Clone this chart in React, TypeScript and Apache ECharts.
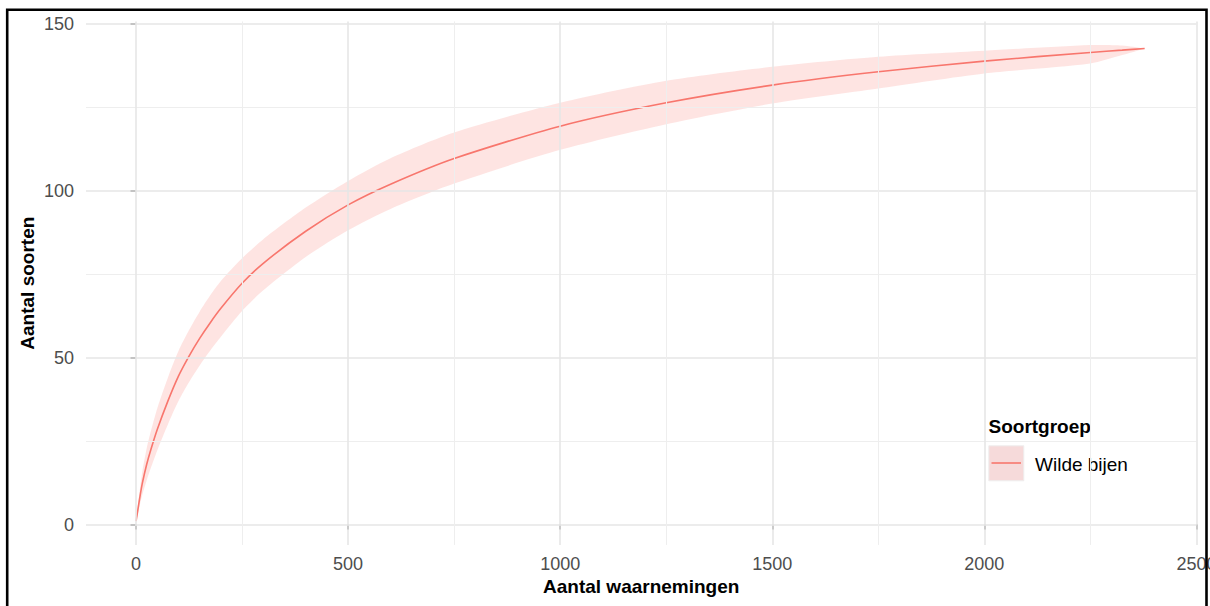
import React, { useEffect, useRef } from "react";
import * as echarts from "echarts";

const observations = [0, 5, 10, 15, 25, 35, 50, 75, 100, 125, 150, 175, 200, 250, 300, 400, 500, 600, 750, 1000, 1250, 1500, 1750, 2000, 2250, 2325, 2378];
const species = [1, 5, 9, 12.5, 18, 22.5, 28.5, 37, 44.5, 50.5, 55.8, 60.5, 64.8, 72.3, 78.3, 87.9, 95.8, 102, 109.7, 119.4, 126.4, 131.7, 135.7, 138.9, 141.5, 142.2, 142.7];
const speciesUpper = [1, 6.5, 11.5, 16, 22.8, 28, 34.8, 44, 52, 58.3, 63.8, 68.7, 73, 79.8, 85.5, 95, 103, 109.8, 117.5, 126.4, 133, 137.2, 140.2, 142, 143.7, 143.6, 142.7];
const speciesLower = [1, 3.5, 6.5, 9, 13.2, 17, 22.2, 30, 37, 42.7, 47.7, 52.2, 56.3, 64, 70.2, 80.2, 88.2, 94.6, 102.2, 112.3, 120, 126.2, 130.7, 135.2, 138.2, 140.7, 142.7];

const xTicks = [0, 500, 1000, 1500, 2000, 2500];
const xMinor = [250, 750, 1250, 1750, 2250];
const yTicks = [0, 50, 100, 150];
const yMinor = [25, 75, 125];

const seriesName = "Wilde bijen";
const legendTitle = "Soortgroep";
const xTitle = "Aantal waarnemingen";
const yTitle = "Aantal soorten";

const FONT = "'Liberation Sans', Arial, Helvetica, sans-serif";
const RED = "#F8766D";

export default function App() {
  const ref = useRef<HTMLDivElement>(null);
  useEffect(() => {
    if (!ref.current) return;
    const chart = echarts.init(ref.current, null, { renderer: "svg" });
    const major = { color: "#E6E6E6", width: 1.6, type: "solid" as const };
    const minor = { color: "#EEEEEE", width: 1, type: "solid" as const };
    const gridLines = [
      ...yTicks.map((v) => ({ yAxis: v, lineStyle: major })),
      ...yMinor.map((v) => ({ yAxis: v, lineStyle: minor })),
      ...xTicks.map((v) => ({ xAxis: v, lineStyle: major })),
      ...xMinor.map((v) => ({ xAxis: v, lineStyle: minor })),
    ];
    const gridLeft = 86;
    const gridTop = 21.4;
    const gridW = 1110.4;
    const gridH = 523.5;
    const plain = (v: number) => String(v);
    chart.setOption({
      animation: false,
      textStyle: { fontFamily: FONT },
      grid: { left: gridLeft, top: gridTop, width: gridW, height: gridH, containLabel: false, outerBoundsMode: "none" },
      xAxis: {
        type: "value",
        min: -118,
        max: 2500,
        axisLine: { show: false },
        splitLine: { show: false },
        axisTick: { show: true, customValues: xTicks, length: 5, lineStyle: { color: "#333333", width: 1.6 } },
        axisLabel: { customValues: xTicks, formatter: plain, color: "#4D4D4D", fontSize: 18, fontFamily: FONT, margin: 10 },
      },
      yAxis: {
        type: "value",
        min: -6.1,
        max: 150.8,
        axisLine: { show: false },
        splitLine: { show: false },
        axisTick: { show: true, customValues: yTicks, length: 5.5, lineStyle: { color: "#333333", width: 1.6 } },
        axisLabel: { customValues: yTicks, formatter: plain, color: "#4D4D4D", fontSize: 18, fontFamily: FONT, margin: 12 },
      },
      series: [
        {
          name: "grid",
          type: "line",
          z: 1,
          symbol: "none",
          lineStyle: { opacity: 0 },
          silent: true,
          data: observations.map((x, i) => [x, species[i]]),
          markLine: {
            silent: true,
            symbol: ["none", "none"],
            label: { show: false },
            emphasis: { disabled: true },
            animation: false,
            data: gridLines,
          },
        },
        {
          name: "band",
          type: "custom",
          z: 2,
          silent: true,
          data: observations.map((x, i) => [x, speciesLower[i], speciesUpper[i]]),
          encode: { x: 0, y: [1, 2] },
          renderItem: (params: any, api: any) => {
            if (params.dataIndex !== 0) return null;
            const pts: number[][] = [];
            for (let i = 0; i < observations.length; i++) pts.push(api.coord([observations[i], speciesUpper[i]]));
            for (let i = observations.length - 1; i >= 0; i--) pts.push(api.coord([observations[i], speciesLower[i]]));
            return { type: "polygon", shape: { points: pts, smooth: 0.25 }, style: { fill: "rgba(248,118,109,0.2)" } };
          },
        },
        {
          name: seriesName,
          type: "line",
          z: 3,
          symbol: "none",
          smooth: 0.25,
          lineStyle: { color: RED, width: 1.6 },
          silent: true,
          data: observations.map((x, i) => [x, species[i]]),
        },
      ],
      graphic: [
        {
          type: "text",
          x: gridLeft + gridW / 2,
          y: 586.5,
          style: { text: xTitle, font: `bold 19px ${FONT}`, fill: "#000", align: "center", verticalAlign: "middle" },
        },
        {
          type: "text",
          x: 27.8,
          y: gridTop + gridH / 2,
          rotation: Math.PI / 2,
          style: { text: yTitle, font: `bold 19px ${FONT}`, fill: "#000", align: "center", verticalAlign: "middle" },
        },
        {
          type: "group",
          z: 50,
          children: [
            { type: "rect", shape: { x: 977, y: 405, width: 164, height: 88 }, style: { fill: "#FFFFFF" } },
            {
              type: "text",
              x: 988.5,
              y: 426.3,
              style: { text: legendTitle, font: `bold 19px ${FONT}`, fill: "#000", align: "left", verticalAlign: "middle" },
            },
            {
              type: "rect",
              shape: { x: 988.8, y: 445.8, width: 35, height: 35 },
              style: { fill: "#F6DADA", stroke: "#EEEEEE", lineWidth: 1 },
            },
            {
              type: "line",
              shape: { x1: 991.5, y1: 463, x2: 1021, y2: 463 },
              style: { stroke: RED, lineWidth: 1.6 },
            },
            {
              type: "text",
              x: 1035,
              y: 464,
              style: { text: seriesName, font: `19px ${FONT}`, fill: "#000", align: "left", verticalAlign: "middle" },
            },
          ],
        },
        {
          type: "rect",
          z: 100,
          shape: { x: 7.2, y: 9.8, width: 1199.3, height: 700 },
          style: { fill: "none", stroke: "#000000", lineWidth: 2.6 },
          silent: true,
        },
      ],
    });
    return () => chart.dispose();
  }, []);
  return <div ref={ref} style={{ position: "absolute", left: 0, top: 0, width: 1210, height: 606, background: "#fff" }} />;
}
